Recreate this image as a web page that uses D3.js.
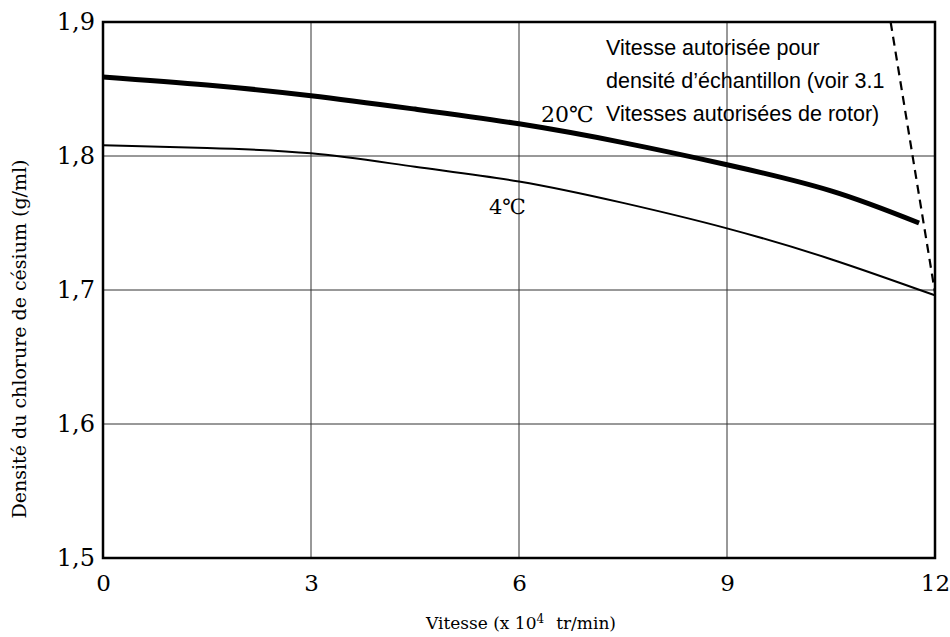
<!DOCTYPE html>
<html>
<head>
<meta charset="utf-8">
<script src="https://cdn.jsdelivr.net/npm/d3@7"></script>
<style>
  body { margin: 0; background: #fff; }
  svg { display: block; }
</style>
</head>
<body>
<svg id="chart" width="950" height="637"></svg>
<script>
// vitesse (x10^4 tr/min) vs densite (g/ml)
var speeds = [0, 1.5, 3, 4.5, 6, 7.5, 9, 10.5, 11.77]
var dens20 = [1.859, 1.853, 1.845, 1.835, 1.824, 1.810, 1.7935, 1.774, 1.750]
var speeds4 = [0, 1.5, 3, 4.5, 6, 7.5, 9, 10.5, 12]
var dens4 = [1.808, 1.806, 1.802, 1.792, 1.781, 1.765, 1.746, 1.723, 1.696]
var limitLine = [[11.36, 1.9], [12, 1.698]]
var xTicks = [0, 3, 6, 9, 12]
var yTicks = [1.5, 1.6, 1.7, 1.8, 1.9]
var noteLines = ["Vitesse autorisée pour", "densité d\u2019échantillon (voir 3.1", "Vitesses autorisées de rotor)"]

var margin = {top: 22, right: 15, bottom: 79, left: 103}
var width = 950, height = 637
var svg = d3.select("#chart")
var serif = "'DejaVu Serif', 'Liberation Serif', serif"

var x = d3.scaleLinear().domain([0, 12]).range([margin.left, width - margin.right])
var y = d3.scaleLinear().domain([1.5, 1.9]).range([height - margin.bottom, margin.top])

// grille
svg.append("g")
    .selectAll("line")
    .data(xTicks.slice(1, -1))
    .join("line")
    .attr("x1", d => x(d)).attr("x2", d => x(d))
    .attr("y1", y(1.5)).attr("y2", y(1.9))
    .attr("stroke", "#333").attr("stroke-width", 1)
svg.append("g")
    .selectAll("line")
    .data(yTicks.slice(1, -1))
    .join("line")
    .attr("x1", x(0)).attr("x2", x(12))
    .attr("y1", d => y(d)).attr("y2", d => y(d))
    .attr("stroke", "#333").attr("stroke-width", 1)

// cadre
svg.append("rect")
    .attr("x", x(0)).attr("y", y(1.9))
    .attr("width", x(12) - x(0)).attr("height", y(1.5) - y(1.9))
    .attr("fill", "none").attr("stroke", "#000").attr("stroke-width", 2.5)

// axes (labels only)
var xAxis = svg.append("g")
    .attr("transform", `translate(0,${y(1.5)})`)
    .call(d3.axisBottom(x).tickValues(xTicks).tickSize(0).tickPadding(17).tickFormat(d3.format("d")))
xAxis.select(".domain").remove()
xAxis.selectAll("text").attr("font-family", serif).attr("font-size", 23).attr("fill", "#000")

var yAxis = svg.append("g")
    .attr("transform", `translate(${x(0)},0)`)
    .call(d3.axisLeft(y).tickValues(yTicks).tickSize(0).tickPadding(8).tickFormat(d => d.toFixed(1).replace(".", ",")))
yAxis.select(".domain").remove()
yAxis.selectAll("text").attr("font-family", serif).attr("font-size", 24).attr("fill", "#000")

// courbes
var line = d3.line().curve(d3.curveNatural).x(d => x(d[0])).y(d => y(d[1]))
svg.append("path")
    .datum(speeds.map((s, i) => [s, dens20[i]]))
    .attr("d", line).attr("fill", "none").attr("stroke", "#000").attr("stroke-width", 5)
svg.append("path")
    .datum(speeds4.map((s, i) => [s, dens4[i]]))
    .attr("d", line).attr("fill", "none").attr("stroke", "#000").attr("stroke-width", 2)
svg.append("path")
    .datum(limitLine)
    .attr("d", d3.line().x(d => x(d[0])).y(d => y(d[1])))
    .attr("fill", "none").attr("stroke", "#000").attr("stroke-width", 2.2)
    .attr("stroke-dasharray", "9,6")

// etiquettes
svg.append("text").attr("x", 541).attr("y", 122).text("20\u2103")
    .attr("font-family", serif).attr("font-size", 22)
svg.append("text").attr("x", 489).attr("y", 214).text("4\u2103")
    .attr("font-family", serif).attr("font-size", 21)
svg.append("g").selectAll("text")
    .data(noteLines)
    .join("text")
    .attr("x", 606).attr("y", (d, i) => 55 + i * 33)
    .attr("font-family", "'Liberation Sans', Arial, sans-serif").attr("font-size", 21.5)
    .text(d => d)

// titres
var xt = svg.append("text").attr("x", 521).attr("y", 629).attr("text-anchor", "middle")
    .attr("font-family", serif).attr("font-size", 17)
xt.append("tspan").text("Vitesse (x 10")
xt.append("tspan").attr("font-size", 12).attr("dy", -6).text("4")
xt.append("tspan").attr("dy", 6).attr("dx", 12).text("tr/min)")

svg.append("text")
    .attr("transform", `translate(26,${339}) rotate(-90)`)
    .attr("text-anchor", "middle")
    .attr("font-family", serif).attr("font-size", 19)
    .text("Densité du chlorure de césium (g/ml)")
</script>
</body>
</html>
